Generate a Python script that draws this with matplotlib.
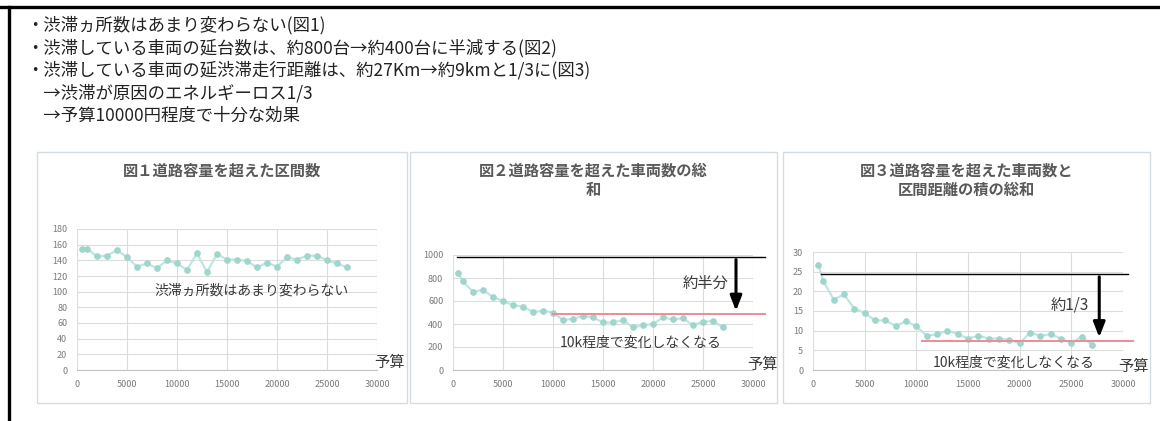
import matplotlib
matplotlib.use("Agg")
import matplotlib.pyplot as plt
from matplotlib.patches import Rectangle
from matplotlib.lines import Line2D

plt.rcParams['font.family'] = ['Noto Sans CJK JP', 'DejaVu Sans']

W, H = 1160, 421

# budget (x) values shared by the three charts
budget = [500, 1000, 2000, 3000, 4000, 5000, 6000, 7000, 8000, 9000, 10000, 11000, 12000, 13000,
          14000, 15000, 16000, 17000, 18000, 19000, 20000, 21000, 22000, 23000, 24000, 25000, 26000, 27000]

# fig 1: number of congested sections
sections = [155, 155, 145, 146, 153, 144, 132, 136, 130, 140, 136, 128, 149, 125,
            148, 141, 141, 139, 131, 137, 132, 144, 141, 146, 146, 140, 136, 131]

# fig 2: total number of vehicles over capacity
vehicles = [843, 770, 680, 697, 634, 600, 566, 549, 506, 514, 500, 434, 446, 469,
            457, 414, 414, 434, 371, 389, 400, 457, 440, 449, 391, 420, 426, 371]

# fig 3: sum of vehicles x section distance
distance = [26.8, 22.6, 17.9, 19.2, 15.6, 14.5, 12.6, 12.6, 11.2, 12.4, 11.1, 8.7, 9.1, 10.0,
            9.2, 8.0, 8.7, 8.0, 8.0, 7.7, 6.8, 9.5, 8.7, 9.1, 8.0, 6.8, 8.5, 6.4]

bullets = [
    "・渋滞ヵ所数はあまり変わらない(図1)",
    "・渋滞している車両の延台数は、約800台→約400台に半減する(図2)",
    "・渋滞している車両の延渋滞走行距離は、約27Km→約9kmと1/3に(図3)",
    "　→渋滞が原因のエネルギーロス1/3",
    "　→予算10000円程度で十分な効果",
]

titles = ["図１道路容量を超えた区間数",
          "図２道路容量を超えた車両数の総\n和",
          "図３道路容量を超えた車両数と\n区間距離の積の総和"]

LINE_C = "#bde6e3"
MARK_C = "#9fd6cb"
GRID_C = "#dcdcdc"
TICK_C = "#7a7a7a"
TITLE_C = "#595959"
PINK = "#f08a9a"
TXT = "#3a3a3a"


def rect(x0, y0, x1, y1):
    # pixel box (top-left origin) -> figure fraction
    return [x0 / W, 1 - y1 / H, (x1 - x0) / W, (y1 - y0) / H]


fig = plt.figure(figsize=(W / 100, H / 100), dpi=100)
fig.patch.set_facecolor("white")

# outer frame (top and left edges)
fig.add_artist(Line2D([0, 1], [1 - 7 / H, 1 - 7 / H], color="black", lw=2.4))
fig.add_artist(Line2D([9 / W, 9 / W], [0, 1 - 7 / H], color="black", lw=2.4))

for i, line in enumerate(bullets):
    fig.text(26 / W, 1 - (25 + 22.8 * i) / H, line, fontsize=12.5, color="#222222",
             va="center", ha="left")

# chart boxes
boxes = [(37, 152, 407, 403), (410, 152, 777, 403), (783, 152, 1150, 403)]
for (x0, y0, x1, y1), t in zip(boxes, titles):
    fig.add_artist(Rectangle((x0 / W, 1 - y1 / H), (x1 - x0) / W, (y1 - y0) / H,
                             transform=fig.transFigure, fill=False, ec="#d3dce2", lw=1))
    fig.text((x0 + x1) / 2 / W, 1 - 163 / H, t, fontsize=11, fontweight="bold", color=TITLE_C,
             ha="center", va="top", linespacing=1.25)


def setup(ax, ymax, ystep):
    ax.set_xlim(0, 30000)
    ax.set_ylim(0, ymax)
    ax.set_xticks(range(0, 30001, 5000))
    ax.set_yticks([v for v in range(0, ymax + 1, ystep)])
    ax.grid(True, color=GRID_C, lw=0.8)
    ax.set_axisbelow(True)
    for s in ["top", "right", "left"]:
        ax.spines[s].set_visible(False)
    ax.spines["bottom"].set_color("#c4c4c4")
    ax.tick_params(length=0, labelsize=6.5, colors=TICK_C, pad=7)


def series(ax, y):
    ax.plot(budget, y, color=LINE_C, lw=1.6, marker="o", ms=3.8, mfc=MARK_C, mec=MARK_C, zorder=3)


ax1 = fig.add_axes(rect(77, 229, 377, 370))
setup(ax1, 180, 20)
series(ax1, sections)
ax1.text(17500, 102, "渋滞ヵ所数はあまり変わらない", fontsize=10, color=TXT, ha="center", va="center")
ax1.text(1.04, 0.05, "予算", transform=ax1.transAxes, fontsize=11, color=TXT, ha="center", va="center")

ax2 = fig.add_axes(rect(453, 255, 753, 370))
setup(ax2, 1000, 200)
series(ax2, vehicles)
ax2.plot([400, 31200], [985, 985], color="black", lw=1, clip_on=False, zorder=4)
ax2.plot([10000, 31200], [485, 485], color=PINK, lw=1.4, clip_on=False, zorder=4)
ax2.annotate("", xy=(28300, 490), xytext=(28300, 985),
             arrowprops=dict(arrowstyle="-|>,head_length=0.9,head_width=0.35", color="black", lw=2.2),
             annotation_clip=False, zorder=5)
ax2.text(25300, 757, "約半分", fontsize=11, color=TXT, ha="center", va="center")
ax2.text(18800, 243, "10k程度で変化しなくなる", fontsize=10, color=TXT, ha="center", va="center")
ax2.text(1.03, 0.05, "予算", transform=ax2.transAxes, fontsize=11, color=TXT, ha="center", va="center")

ax3 = fig.add_axes(rect(813, 252, 1123, 370))
setup(ax3, 30, 5)
series(ax3, distance)
ax3.plot([800, 30500], [24.4, 24.4], color="black", lw=1, clip_on=False, zorder=4)
ax3.plot([10500, 31000], [7.5, 7.5], color=PINK, lw=1.4, clip_on=False, zorder=4)
ax3.annotate("", xy=(27700, 7.6), xytext=(27700, 24.4),
             arrowprops=dict(arrowstyle="-|>,head_length=0.9,head_width=0.35", color="black", lw=2.2),
             annotation_clip=False, zorder=5)
ax3.text(24800, 16.5, "約1/3", fontsize=11, color=TXT, ha="center", va="center")
ax3.text(19450, 2.0, "10k程度で変化しなくなる", fontsize=10, color=TXT, ha="center", va="center")
ax3.text(1.035, 0.03, "予算", transform=ax3.transAxes, fontsize=11, color=TXT, ha="center", va="center")

fig.savefig("out.png", dpi=100)
